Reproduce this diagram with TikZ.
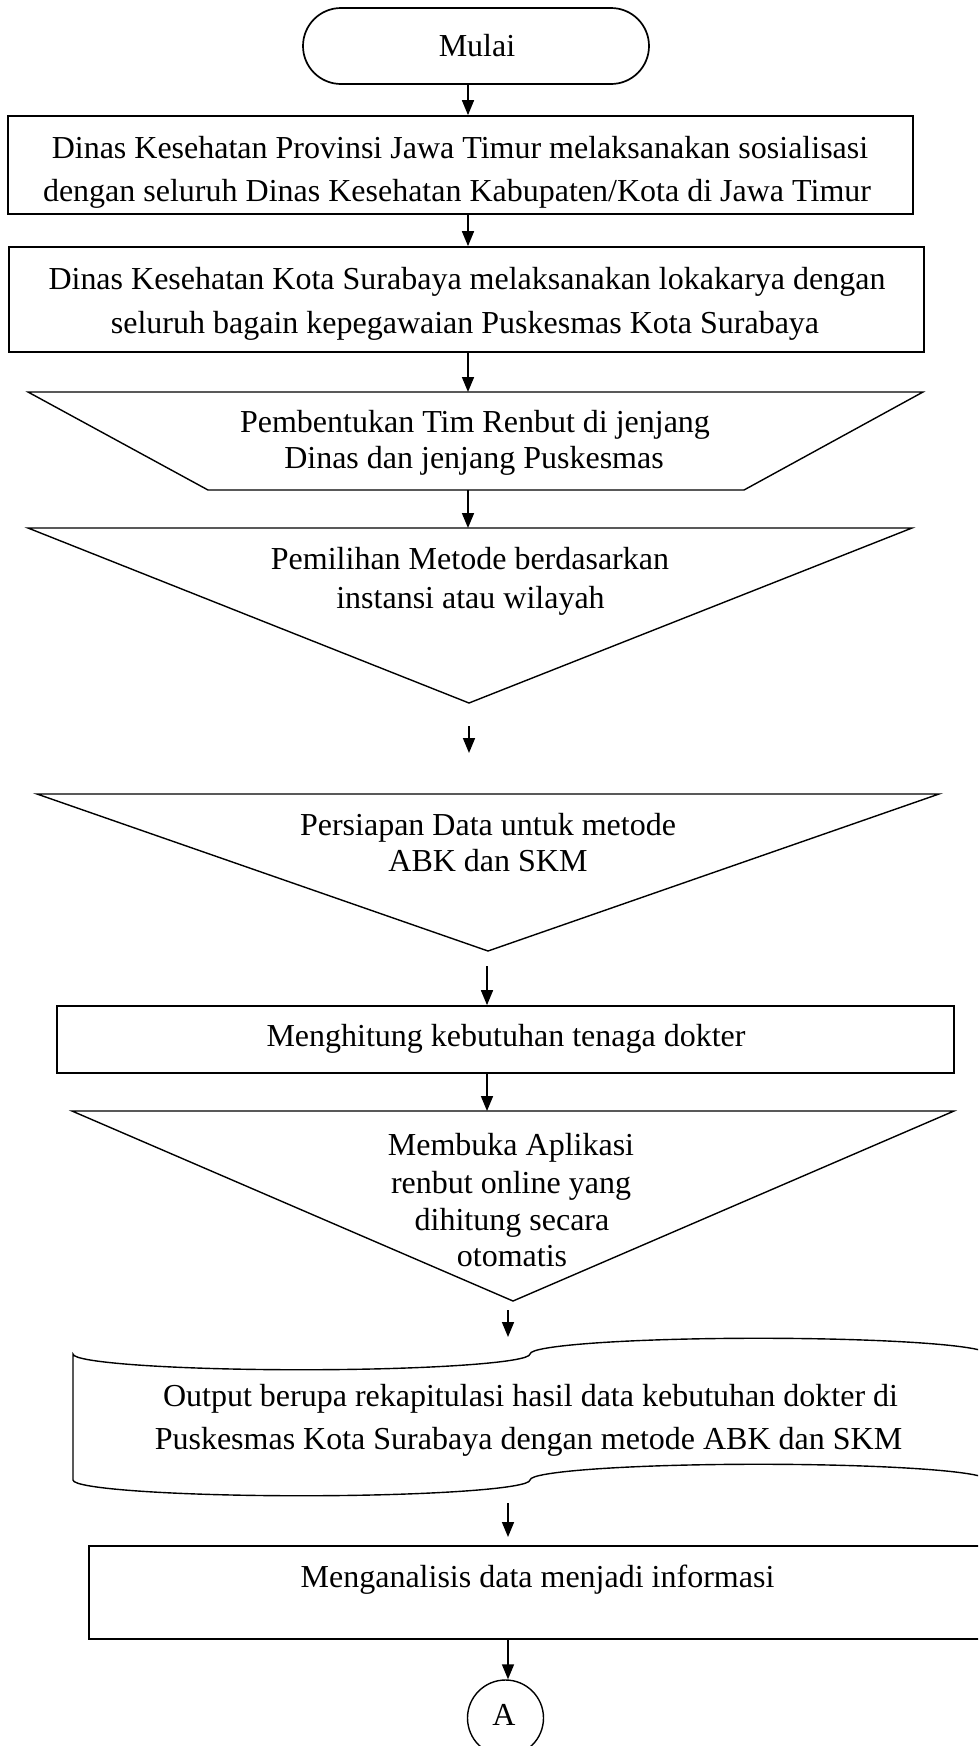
\documentclass[tikz,border=0pt]{standalone}
\usepackage{fontspec}
\setmainfont{Liberation Serif}
\usetikzlibrary{arrows.meta}
\begin{document}
\begin{tikzpicture}[x=1pt,y=1pt,
  box/.style={draw, line width=1.7pt, inner sep=0pt},
  shp/.style={draw, line width=1.4pt, line join=miter},
  tl/.style={font=\fontsize{32}{37}\selectfont, inner sep=0pt, anchor=base},
  arr/.style={line width=1.6pt, -{Triangle[length=15pt,width=12pt]}}]
\fill[white] (0,0) rectangle (978,-1746);
\clip (0,0) rectangle (978,-1746);

% Start terminal
\node[box, rounded corners=38pt, minimum width=346pt, minimum height=76pt] (term) at (476,-46) {};
\node[tl] (tM) at (477,-56) {Mulai};

% Box 1
\node[box, minimum width=905pt, minimum height=98pt] (box1) at (460.5,-165) {};
\node[tl] (t1a) at (460,-158) {Dinas Kesehatan Provinsi Jawa Timur melaksanakan sosialisasi};
\node[tl] (t1b) at (457,-201) {dengan seluruh Dinas Kesehatan Kabupaten/Kota di Jawa Timur};

% Box 2
\node[box, minimum width=915pt, minimum height=105pt] (box2) at (466.5,-299.5) {};
\node[tl] (t2a) at (467,-289) {Dinas Kesehatan Kota Surabaya melaksanakan lokakarya dengan};
\node[tl] (t2b) at (465,-333) {seluruh bagain kepegawaian Puskesmas Kota Surabaya};

% Trapezoid
\draw[shp] (28,-392) -- (923,-392) -- (744,-490) -- (208,-490) -- cycle;
\coordinate (trapT) at (468,-392);
\coordinate (trapB) at (468,-490);
\node[tl] (t3a) at (475,-432) {Pembentukan Tim Renbut di jenjang};
\node[tl] (t3b) at (474,-468) {Dinas dan jenjang Puskesmas};

% Triangle 1
\draw[shp] (28,-528) -- (912,-528) -- (469,-703) -- cycle;
\coordinate (tri1T) at (468,-528);
\node[tl] (t4a) at (470,-569) {Pemilihan Metode berdasarkan};
\node[tl] (t4b) at (470.5,-608) {instansi atau wilayah};

% Triangle 2
\draw[shp] (37,-794) -- (939,-794) -- (488,-951) -- cycle;
\node[tl] (t5a) at (488,-835) {Persiapan Data untuk metode};
\node[tl] (t5b) at (488,-871) {ABK dan SKM};

% Box 3
\node[box, minimum width=897pt, minimum height=67pt] (box3) at (505.5,-1039.5) {};
\node[tl] (t6) at (506,-1046) {Menghitung kebutuhan tenaga dokter};

% Triangle 3
\draw[shp] (72,-1111) -- (954,-1111) -- (513,-1301) -- cycle;
\coordinate (tri3T) at (487,-1111);
\node[tl] (t7a) at (511,-1155) {Membuka Aplikasi};
\node[tl] (t7b) at (511,-1193) {renbut online yang};
\node[tl] (t7c) at (512,-1230) {dihitung secara};
\node[tl] (t7d) at (512,-1266) {otomatis};

% Punched tape
\draw[shp] (73,-1354)
  arc[start angle=180, end angle=360, x radius=228.5, y radius=15.75]
  arc[start angle=180, end angle=0, x radius=228.5, y radius=15.75]
  -- (987,-1480)
  arc[start angle=0, end angle=180, x radius=228.5, y radius=15.75]
  arc[start angle=0, end angle=-180, x radius=228.5, y radius=15.75]
  -- cycle;
\node[tl] (t8a) at (530.5,-1406) {Output berupa rekapitulasi hasil data kebutuhan dokter di};
\node[tl] (t8b) at (528.5,-1449) {Puskesmas Kota Surabaya dengan metode ABK dan SKM};

% Box 4
\node[box, minimum width=897pt, minimum height=93pt] (box4) at (537.5,-1592.5) {};
\node[tl] (t9) at (537.5,-1587) {Menganalisis data menjadi informasi};

% Connector A
\node[draw, circle, line width=1.4pt, minimum size=76pt, inner sep=0pt] (cA) at (505.5,-1718) {};
\node[tl] (tA) at (504,-1725) {A};

% Arrows
\coordinate (xa) at (468,0);
\coordinate (xb) at (487,0);
\coordinate (xc) at (508,0);
\draw[arr] (term.south -| xa) -- (box1.north -| xa);
\draw[arr] (box1.south -| xa) -- (box2.north -| xa);
\draw[arr] (box2.south -| xa) -- (trapT);
\draw[arr] (trapB) -- (tri1T);
\coordinate (f1s) at (469,-726);
\coordinate (f1e) at (469,-753);
\draw[arr] (f1s) -- (f1e);
\coordinate (f2s) at (487,-966);
\draw[arr] (f2s) -- (box3.north -| f2s);
\draw[arr] (box3.south -| xb) -- (tri3T);
\coordinate (f3s) at (508,-1310);
\coordinate (f3e) at (508,-1337);
\draw[arr] (f3s) -- (f3e);
\coordinate (f4s) at (508,-1503);
\coordinate (f4e) at (508,-1537);
\draw[arr] (f4s) -- (f4e);
\draw[arr] (box4.south -| xc) -- (cA.north -| xc);
\end{tikzpicture}
\end{document}
